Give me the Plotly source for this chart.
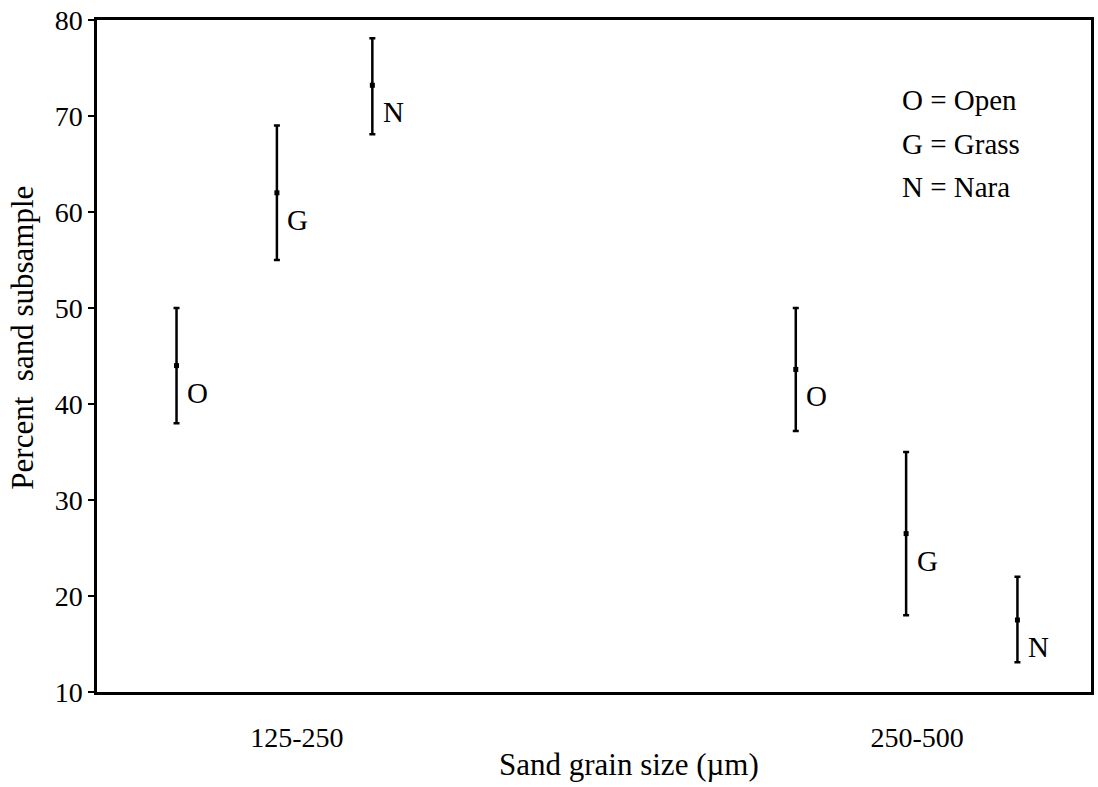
import plotly.graph_objects as go

# Data
habitat_labels = ["O", "G", "N", "O", "G", "N"]
x_pos = [0.80, 1.81, 2.77, 7.03, 8.14, 9.26]
means = [44.0, 62.0, 73.2, 43.6, 26.5, 17.5]
upper = [50.0, 69.0, 78.1, 50.0, 35.0, 22.0]
lower = [38.0, 55.0, 68.1, 37.2, 18.0, 13.1]
group_ticks = [2.01, 8.25]
group_labels = ["125-250", "250-500"]
legend_lines = ["O = Open", "G = Grass", "N = Nara"]
y_ticks = [10, 20, 30, 40, 50, 60, 70, 80]
x_title = "Sand grain size (\u00b5m)"
y_title = "Percent  sand subsample"

FONT = "Liberation Serif"

err_plus = [u - m for u, m in zip(upper, means)]
err_minus = [m - l for m, l in zip(means, lower)]

fig = go.Figure()
fig.add_trace(go.Scatter(
    x=x_pos, y=means, mode="markers",
    marker=dict(symbol="square", size=5, color="black"),
    error_y=dict(type="data", symmetric=False, array=err_plus, arrayminus=err_minus,
                 color="black", thickness=2.5, width=3),
    showlegend=False, hoverinfo="skip",
))

for xv, yv, lab in zip(x_pos, means, habitat_labels):
    fig.add_annotation(x=xv, y=yv, text=lab, showarrow=False, xshift=21, yshift=-27,
                       font=dict(family=FONT, size=29, color="black"))

for i, line in enumerate(legend_lines):
    fig.add_annotation(x=0.808, y=0.881 - i * 0.065, xref="paper", yref="paper",
                       text=line, showarrow=False, xanchor="left", yanchor="middle",
                       font=dict(family=FONT, size=29, color="black"))

# axis titles as annotations (offset from centre like the reference)
fig.add_annotation(x=0.535, y=-0.108, xref="paper", yref="paper", text=x_title,
                   showarrow=False, xanchor="center", yanchor="middle",
                   font=dict(family=FONT, size=31, color="black"))
fig.add_annotation(x=-0.075, y=0.528, xref="paper", yref="paper", text=y_title,
                   showarrow=False, textangle=-90, xanchor="center", yanchor="middle",
                   font=dict(family=FONT, size=31, color="black"))

fig.update_layout(
    width=1098, height=787,
    margin=dict(l=97, r=4, t=20, b=95),
    paper_bgcolor="white", plot_bgcolor="white",
    font=dict(family=FONT, color="black"),
    xaxis=dict(range=[0, 10], tickvals=group_ticks, ticktext=group_labels,
               showgrid=False, zeroline=False, ticks="", showline=True, mirror=True,
               linecolor="black", linewidth=2.5,
               tickfont=dict(family=FONT, size=28), ticklabelstandoff=19),
    yaxis=dict(range=[10, 80], tickvals=y_ticks, showgrid=False, zeroline=False,
               ticks="outside", ticklen=6, tickwidth=2, tickcolor="black",
               showline=True, mirror=True, linecolor="black", linewidth=2.5,
               tickfont=dict(family=FONT, size=28)),
)

fig.write_html(
    "out.html",
    config={"displayModeBar": False},
    post_script="document.documentElement.style.margin='0';document.body.style.margin='0';"
                "document.documentElement.style.overflow='hidden';document.body.style.overflow='hidden';",
)
